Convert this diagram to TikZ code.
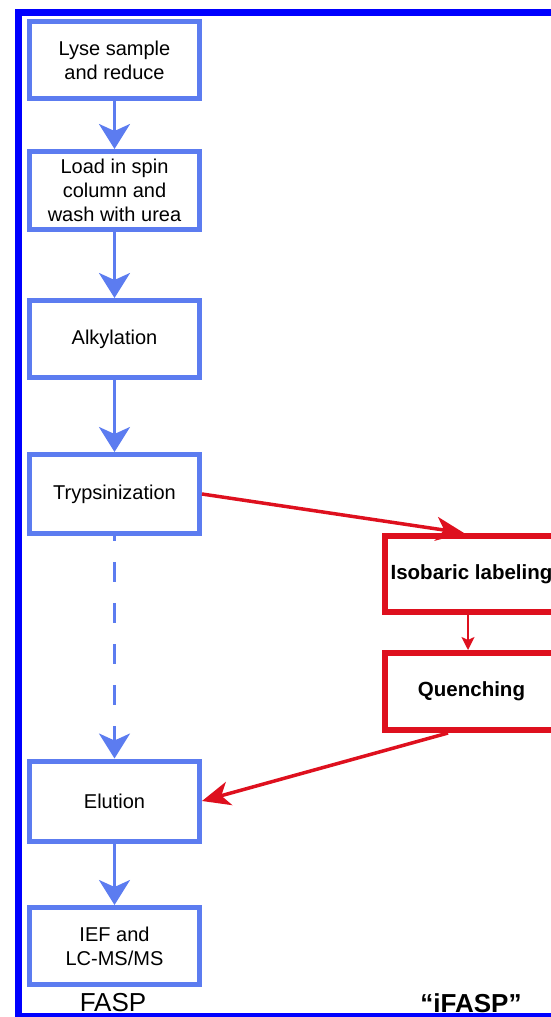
\documentclass[tikz,border=0pt]{standalone}
\usepackage{fontspec}
\setmainfont{Liberation Sans}
\usetikzlibrary{arrows.meta,calc,positioning}
\definecolor{faspblue}{RGB}{92,124,240}
\definecolor{ifaspred}{RGB}{222,16,30}
\definecolor{frameblue}{RGB}{0,0,255}

\begin{document}
\begin{tikzpicture}[x=1pt,y=-1pt]
        % Define the box and arrow styles
        \tikzstyle{fasp}=[draw=faspblue, line width=5pt, minimum width=170pt, inner sep=0pt, align=center, font=\fontsize{20}{24}\selectfont]
        \tikzstyle{ifasp}=[draw=ifaspred, line width=6pt, minimum width=173pt, minimum height=76pt, inner sep=0pt, align=center, font=\fontsize{20.5}{24}\selectfont\bfseries]
        \tikzstyle{flow}=[faspblue, line width=3pt, -{Stealth[length=25pt,width=31pt,inset=7pt]}]
        \tikzstyle{relabel}=[ifaspred, line width=3.5pt, -{Stealth[length=28pt,width=24pt,inset=8pt]}]

        \useasboundingbox (0,0) rectangle (551,1017);
        \clip (0,0) rectangle (551,1017);

        % FASP steps
        \node (lyse)[fasp, minimum height=77pt] at (114.5,60) {Lyse sample\\and reduce};
        \node (load)[fasp, minimum height=78pt] at (114.5,190.5) {Load in spin\\column and\\wash with urea};
        \node (alk)[fasp, minimum height=77pt] at (114.5,339) {Alkylation};
        \node (tryp)[fasp, minimum height=79pt] at (114.5,494) {Trypsinization};
        \node (elu)[fasp, minimum height=80pt] at (114.5,801) {Elution};
        \node (ief)[fasp, minimum height=77pt] at (114.5,946) {IEF and\\LC-MS/MS};

        % iFASP steps
        \node (iso)[ifasp] at (471.5,574) {Isobaric labeling};
        \node (quench)[ifasp, minimum height=77pt] at (471.5,691.5) {Quenching};

        % Labels
        \node (fasplab)[anchor=base, inner sep=0pt, font=\fontsize{26}{30}\selectfont] at (113,1011) {FASP};
        \node (ifasplab)[anchor=base, inner sep=0pt, font=\fontsize{26}{30}\selectfont\bfseries] at (471,1012) {“iFASP”};

        % FASP arrows
        \draw[flow] (lyse) -- (load);
        \draw[flow] (load) -- (alk);
        \draw[flow] (alk) -- (tryp);
        \draw[flow, dash pattern=on 20pt off 21pt, dash phase=15pt] (tryp) -- (elu);
        \draw[flow] (elu) -- (ief);

        % iFASP arrows
        \draw[relabel] (tryp.east) -- ([xshift=82pt]iso.north west);
        \draw[ifaspred, line width=2pt, -{Stealth[length=13pt,width=13pt,inset=3pt]}] ([xshift=86pt]iso.south west) -- ([xshift=86pt]quench.north west);
        \draw[relabel] ([xshift=66pt]quench.south west) -- (elu.east);

        % Outer frame
        \draw[frameblue, line width=7pt] (18.5,9) -- (18.5,1017);
        \draw[frameblue, line width=7pt] (15,12.5) -- (551,12.5);
        \draw[frameblue, line width=4pt] (15,1015) -- (551,1015);
    \end{tikzpicture}
\end{document}
